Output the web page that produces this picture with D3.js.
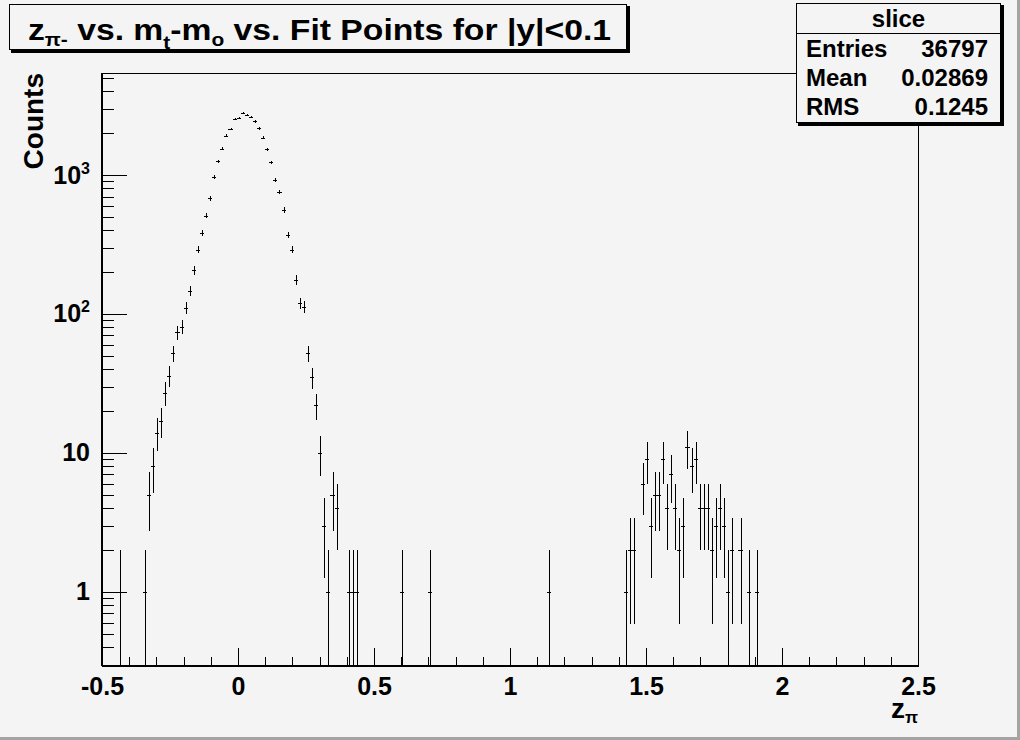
<!DOCTYPE html>
<html>
<head>
<meta charset="utf-8">
<script src="https://cdn.jsdelivr.net/npm/d3@7"></script>
<style>
  body { margin: 0; background: #f4f4f4; }
  svg { display: block; font-family: "Liberation Sans", Arial, sans-serif; font-weight: bold; }
</style>
</head>
<body>
<div id="chart"></div>
<script>
// histogram bins (centre of bin, width 0.015) and their counts
const binCenters = [
  -0.4325, -0.3425, -0.3275, -0.3125, -0.2975, -0.2825, -0.2675, -0.2525, -0.2375, -0.2225,
  -0.2075, -0.1925, -0.1775, -0.1625, -0.1475, -0.1325, -0.1175, -0.1025, -0.0875, -0.0725,
  -0.0575, -0.0425, -0.0275, -0.0125, 0.0025, 0.0175, 0.0325, 0.0475, 0.0625, 0.0775,
  0.0925, 0.1075, 0.1225, 0.1375, 0.1525, 0.1675, 0.1825, 0.1975, 0.2125, 0.2275,
  0.2425, 0.2575, 0.2725, 0.2875, 0.3025, 0.3175, 0.3325, 0.3475, 0.3625, 0.4075,
  0.4225, 0.4375, 0.6025, 0.7075, 1.1425, 1.4275, 1.4425, 1.4575, 1.4875, 1.5025,
  1.5175, 1.5325, 1.5475, 1.5625, 1.5775, 1.5925, 1.6075, 1.6225, 1.6375, 1.6525,
  1.6675, 1.6825, 1.6975, 1.7125, 1.7275, 1.7425, 1.7575, 1.7725, 1.7875, 1.8025,
  1.8175, 1.8475, 1.8775, 1.9075
];
const counts = [
  1, 1, 5, 8, 14, 17, 27, 36, 52, 74,
  81, 111, 146, 206, 290, 381, 510, 680, 962, 1255,
  1546, 1918, 2143, 2529, 2559, 2779, 2702, 2602, 2434, 2168,
  1855, 1530, 1234, 916, 755, 560, 370, 290, 176, 119,
  113, 52, 35, 22, 10, 3, 1, 5, 4, 1,
  1, 1, 1, 1, 1, 1, 2, 2, 6, 9,
  3, 5, 5, 9, 4, 7, 4, 2, 3, 11,
  8, 9, 4, 4, 4, 2, 3, 4, 3, 1,
  2, 2, 1, 1
];
const binWidth = 0.015;

const xMajorTicks = [-0.5, 0, 0.5, 1, 1.5, 2, 2.5];
const yMajorTicks = [1, 10, 100, 1000];
const yLabels = { 1: ["1", ""], 10: ["10", ""], 100: ["10", "2"], 1000: ["10", "3"] };

const statNames = ["Entries", "Mean", "RMS"];
const statValues = ["36797", "0.02869", "0.1245"];

const width = 1020;
const height = 740;
const frame = { left: 102, right: 918, top: 73, bottom: 666 };
const labelSize = 25;

const svg = d3.select('#chart')
  .append('svg')
  .attr('width', width)
  .attr('height', height);

// canvas with bevel
svg.append('rect').attr('width', width).attr('height', height).attr('fill', '#f4f4f4');
svg.append('rect').attr('x', width - 3).attr('y', 0).attr('width', 3).attr('height', height).attr('fill', '#a4a4a4');
svg.append('rect').attr('x', 0).attr('y', height - 3).attr('width', width).attr('height', 3).attr('fill', '#a4a4a4');

const x = d3.scaleLinear().domain([-0.5, 2.5]).range([frame.left, frame.right]);
const y = d3.scaleLog().domain([0.293, 5420]).range([frame.bottom, frame.top]);

// frame
svg.append('rect')
  .attr('x', frame.left).attr('y', frame.top)
  .attr('width', frame.right - frame.left).attr('height', frame.bottom - frame.top)
  .attr('fill', 'none').attr('stroke', '#000').attr('stroke-width', 1)
  .attr('shape-rendering', 'crispEdges');

// x axis
const xMinor = d3.range(-5, 26).map(d => d / 10).filter(d => !xMajorTicks.includes(d));

svg.append('g')
  .attr('transform', `translate(0,${frame.bottom})`)
  .call(d3.axisBottom(x).tickValues(xMinor).tickSize(-9).tickFormat(''))
  .call(g => g.select('.domain').remove());

const xAxis = svg.append('g')
  .attr('transform', `translate(0,${frame.bottom})`)
  .call(d3.axisBottom(x).tickValues(xMajorTicks).tickSize(-18).tickPadding(11)
    .tickFormat(d => String(d)))
  .call(g => g.select('.domain').remove());

xAxis.selectAll('text')
  .attr('font-size', labelSize).attr('font-family', '"Liberation Sans", Arial, sans-serif')
  .attr('font-weight', 'bold').attr('fill', '#000');

// y axis
const yMinor = [];
[0.1, 1, 10, 100, 1000].forEach(dec => {
  for (let k = 2; k <= 9; k++) {
    const v = dec * k;
    if (v >= 0.293 && v <= 5420) yMinor.push(v);
  }
});

svg.append('g')
  .attr('transform', `translate(${frame.left},0)`)
  .call(d3.axisLeft(y).tickValues(yMinor).tickSize(-12).tickFormat(''))
  .call(g => g.select('.domain').remove());

const yAxis = svg.append('g')
  .attr('transform', `translate(${frame.left},0)`)
  .call(d3.axisLeft(y).tickValues(yMajorTicks).tickSize(-25).tickPadding(12).tickFormat(''))
  .call(g => g.select('.domain').remove());

yAxis.selectAll('.tick text')
  .attr('font-size', labelSize).attr('font-family', '"Liberation Sans", Arial, sans-serif')
  .attr('font-weight', 'bold').attr('fill', '#000')
  .each(function (d) {
    const t = d3.select(this);
    const [base, sup] = yLabels[d];
    t.append('tspan').text(base);
    if (sup) t.append('tspan').attr('font-size', 16).attr('dy', -10).text(sup);
  });

svg.selectAll('.tick line').attr('stroke', '#000').attr('shape-rendering', 'crispEdges');

// axis lines drawn heavier
svg.append('line')
  .attr('x1', frame.left).attr('x2', frame.right)
  .attr('y1', frame.bottom).attr('y2', frame.bottom)
  .attr('stroke', '#000').attr('stroke-width', 2);
svg.append('line')
  .attr('x1', frame.left).attr('x2', frame.left)
  .attr('y1', frame.top).attr('y2', frame.bottom)
  .attr('stroke', '#000').attr('stroke-width', 2);

// data points with error bars
const bins = binCenters.map((c, i) => ({ z: c, n: counts[i] }));

const points = svg.append('g')
  .attr('stroke', '#000').attr('stroke-width', 1).attr('fill', 'none')
  .attr('shape-rendering', 'crispEdges');

points.selectAll('path')
  .data(bins)
  .join('path')
  .attr('d', d => {
    const err = Math.sqrt(d.n);
    const cx = Math.round(x(d.z)) + 0.5;
    const yTop = y(d.n + err);
    const yBot = d.n - err > 0.293 ? y(d.n - err) : frame.bottom;
    const cy = Math.round(y(d.n)) + 0.5;
    const x0 = x(d.z - binWidth / 2);
    const x1 = x(d.z + binWidth / 2);
    return `M${cx},${yTop}V${yBot}M${x0},${cy}H${x1}`;
  });

// title box
svg.append('rect').attr('x', 11).attr('y', 6).attr('width', 619).attr('height', 47).attr('fill', '#000');
svg.append('rect').attr('x', 9.5).attr('y', 4.5).attr('width', 617).attr('height', 45)
  .attr('fill', '#f4f4f4').attr('stroke', '#000').attr('stroke-width', 1);

const title = svg.append('text')
  .attr('x', 28).attr('y', 40)
  .attr('font-size', 29)
  .attr('textLength', 583)
  .attr('lengthAdjust', 'spacingAndGlyphs');
title.append('tspan').text('z');
title.append('tspan').attr('font-size', 18).attr('dy', 6).text('π-');
title.append('tspan').attr('dy', -6).text(' vs. m');
title.append('tspan').attr('font-size', 18).attr('dy', 9).text('t');
title.append('tspan').attr('dy', -9).text('-m');
title.append('tspan').attr('font-size', 18).attr('dy', 6).text('o');
title.append('tspan').attr('dy', -6).text(' vs. Fit Points for |y|<0.1');

// stats box
svg.append('rect').attr('x', 798).attr('y', 5).attr('width', 206).attr('height', 121).attr('fill', '#000');
svg.append('rect').attr('x', 796.5).attr('y', 3.5).attr('width', 204).attr('height', 119)
  .attr('fill', '#f4f4f4').attr('stroke', '#000').attr('stroke-width', 1);
svg.append('line').attr('x1', 796.5).attr('x2', 1000.5).attr('y1', 33.5).attr('y2', 33.5)
  .attr('stroke', '#000').attr('stroke-width', 1);

svg.append('text')
  .attr('x', 898.5).attr('y', 27)
  .attr('text-anchor', 'middle')
  .attr('font-size', 24)
  .text('slice');

const rowY = [57, 86, 115];
svg.selectAll('.stat-name')
  .data(statNames)
  .join('text')
  .attr('class', 'stat-name')
  .attr('x', 806).attr('y', (d, i) => rowY[i])
  .attr('font-size', 24)
  .text(d => d);

svg.selectAll('.stat-value')
  .data(statValues)
  .join('text')
  .attr('class', 'stat-value')
  .attr('x', 988).attr('y', (d, i) => rowY[i])
  .attr('text-anchor', 'end')
  .attr('font-size', 24)
  .text(d => d);

// axis titles
const xTitle = svg.append('text')
  .attr('x', frame.right).attr('y', 718)
  .attr('text-anchor', 'end')
  .attr('font-size', 28);
xTitle.append('tspan').text('z');
xTitle.append('tspan').attr('font-size', 17).attr('dy', 5).text('π');

svg.append('text')
  .attr('transform', 'rotate(-90)')
  .attr('x', -frame.top).attr('y', 43)
  .attr('text-anchor', 'end')
  .attr('font-size', 28)
  .text('Counts');
</script>
</body>
</html>
